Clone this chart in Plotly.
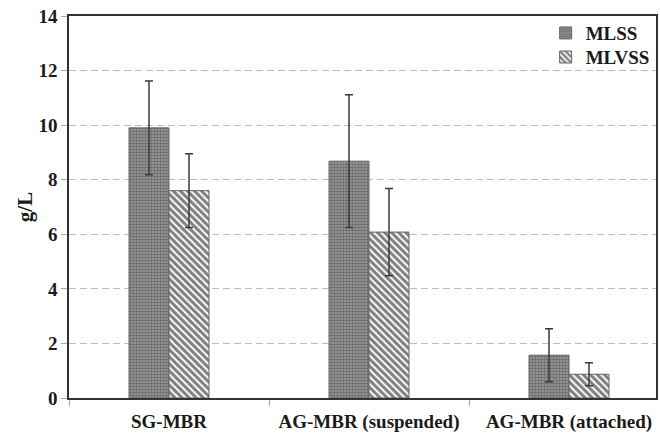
import plotly.graph_objects as go

categories = ["SG-MBR", "AG-MBR (suspended)", "AG-MBR (attached)"]
mlss = [9.9, 8.68, 1.57]
mlss_err = [1.72, 2.43, 0.97]
mlvss = [7.6, 6.08, 0.87]
mlvss_err = [1.35, 1.6, 0.42]
y_ticks = [0, 2, 4, 6, 8, 10, 12, 14]

font_fam = "Liberation Serif"

fig = go.Figure()
fig.add_trace(go.Bar(
    name="MLSS", x=categories, y=mlss, legend="legend",
    error_y=dict(type="data", array=mlss_err, color="#3a3a3a", thickness=1.5, width=4),
    marker=dict(color="#909090", line=dict(color="#666", width=1),
                pattern=dict(shape=".", fgcolor="#333333", bgcolor="#a0a0a0", size=3, solidity=0.6)),
))
fig.add_trace(go.Bar(
    name="MLVSS", x=categories, y=mlvss, legend="legend2",
    error_y=dict(type="data", array=mlvss_err, color="#3a3a3a", thickness=1.5, width=4),
    marker=dict(color="white", line=dict(color="#666", width=1),
                pattern=dict(shape="\\", fgcolor="#000", bgcolor="white", size=5, solidity=0.6)),
))

legend_style = dict(xanchor="left", yanchor="top",
                    font=dict(family=font_fam, size=19, color="#1a1a1a", weight="bold"),
                    bgcolor="rgba(0,0,0,0)", itemwidth=30)

fig.update_layout(
    width=660, height=433,
    margin=dict(l=69, r=4, t=16, b=35),
    paper_bgcolor="white", plot_bgcolor="white",
    barmode="group", bargap=0.6, bargroupgap=0,
    font=dict(family=font_fam, size=19, color="#1a1a1a"),
    legend=dict(x=0.812, y=1.005, **legend_style),
    legend2=dict(x=0.812, y=0.942, **legend_style),
    showlegend=True,
)
fig.update_xaxes(
    range=[-0.5, 2.435], showline=True, linecolor="#333", linewidth=1.5, mirror=True,
    ticks="outside", tickson="boundaries", ticklen=6, tickcolor="#aaa",
    ticklabelstandoff=5,
    tickfont=dict(family=font_fam, size=19, color="#1a1a1a", weight="bold"),
    showgrid=False, automargin=False,
)
fig.update_yaxes(
    range=[0, 14], tickvals=y_ticks, showline=True, linecolor="#333", linewidth=1.5, mirror=True,
    ticks="outside", ticklen=6, tickcolor="#aaa",
    showgrid=True, gridcolor="#bdbdbd", griddash="7px,4px", gridwidth=1,
    tickfont=dict(family=font_fam, size=19, color="#1a1a1a", weight="bold"),
    title=dict(text="g/L", font=dict(family=font_fam, size=21, color="#1a1a1a", weight="bold"), standoff=0),
    zeroline=False, automargin=False,
)

fig.write_html("out.html", config={"displayModeBar": False},
               post_script="document.body.style.margin='0';")
